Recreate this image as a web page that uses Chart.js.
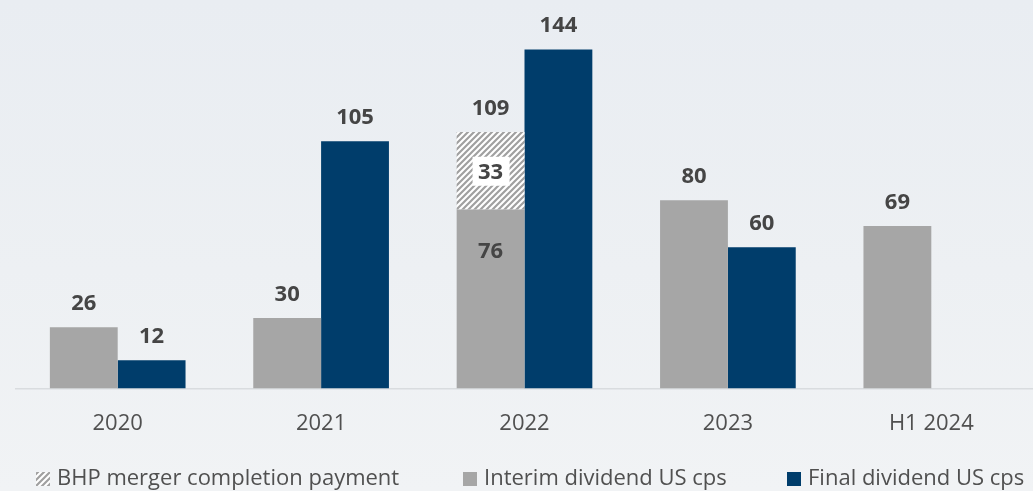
<!DOCTYPE html>
<html>
<head>
<meta charset="utf-8">
<script src="https://cdn.jsdelivr.net/npm/chart.js@4.4.1/dist/chart.umd.min.js"></script>
<style>
html, body { margin: 0; padding: 0; }
body {
  width: 1033px; height: 491px; overflow: hidden;
  background: linear-gradient(180deg, #e9edf2 0%, #edf0f3 55%, #f1f3f5 100%);
}
#wrap { position: relative; width: 1033px; height: 491px; }
</style>
</head>
<body>
<div id="wrap"><canvas id="myChart"></canvas></div>
<script>
var categories = ['2020', '2021', '2022', '2023', 'H1 2024']
var interimValues = [26, 30, 76, 80, 69]
var mergerValues = [null, null, 33, null, null]
var finalValues = [12, 105, 144, 60, null]
var seriesNames = ['BHP merger completion payment', 'Interim dividend US cps', 'Final dividend US cps']

var GREY = '#a6a6a6'
var NAVY = '#003d6b'
var LABEL = '#454545'
var FONT = '"Open Sans", "Noto Sans", sans-serif'

// diagonal hatch used for the merger payment
function makeHatch() {
  var p = document.createElement('canvas')
  p.width = 6
  p.height = 6
  var g = p.getContext('2d')
  g.fillStyle = '#ffffff'
  g.fillRect(0, 0, 6, 6)
  g.strokeStyle = '#a0a0a0'
  g.lineWidth = 2.2
  g.beginPath()
  g.moveTo(-1, 7); g.lineTo(7, -1)
  g.moveTo(-4, 4); g.lineTo(4, -4)
  g.moveTo(2, 10); g.lineTo(10, 2)
  g.stroke()
  return g.createPattern(p, 'repeat')
}
var hatch = makeHatch()

var labelPlugin = {
  id: 'barLabels',
  afterDatasetsDraw: function (chart) {
    var c = chart.ctx
    var interim = chart.getDatasetMeta(0).data
    var merger = chart.getDatasetMeta(1).data
    var fin = chart.getDatasetMeta(2).data
    c.save()
    c.font = 'bold 22px ' + FONT
    c.textAlign = 'center'
    c.textBaseline = 'alphabetic'
    categories.forEach(function (cat, i) {
      c.fillStyle = LABEL
      if (interimValues[i] != null) {
        var bar = interim[i]
        if (mergerValues[i] != null) {
          var m = merger[i]
          var mid = (m.y + m.base) / 2
          c.fillText(interimValues[i], bar.x, bar.y + 48)
          c.fillStyle = '#ffffff'
          c.fillRect(m.x - 18, mid - 14, 37, 29)
          c.fillStyle = LABEL
          c.fillText(mergerValues[i], m.x, mid + 8)
          c.fillText(interimValues[i] + mergerValues[i], m.x, m.y - 17)
        } else {
          c.fillText(interimValues[i], bar.x, bar.y - 17)
        }
      }
      if (finalValues[i] != null) {
        c.fillText(finalValues[i], fin[i].x, fin[i].y - 17)
      }
    })
    c.restore()
  }
}

// legend drawn along the bottom edge
var legendX = [36, 463, 787]
var legendPlugin = {
  id: 'bottomLegend',
  afterDraw: function (chart) {
    var c = chart.ctx
    var y = 472
    c.save()
    c.font = '22px ' + FONT
    c.textBaseline = 'middle'
    c.textAlign = 'left'
    var fills = [hatch, GREY, NAVY]
    seriesNames.forEach(function (name, i) {
      c.fillStyle = fills[i]
      c.fillRect(legendX[i], y, 14, 14)
      c.fillStyle = '#505050'
      c.fillText(name, legendX[i] + 21, y + 7)
    })
    c.restore()
  }
}

var ctx = document.getElementById('myChart').getContext('2d')
var myChart = new Chart(ctx, {
  type: 'bar',
  data: {
    labels: categories,
    datasets: [
      {
        label: seriesNames[1],
        data: interimValues,
        backgroundColor: GREY,
        stack: 'interim',
        barPercentage: 1,
        categoryPercentage: 0.667,
      },
      {
        label: seriesNames[0],
        data: mergerValues,
        backgroundColor: hatch,
        stack: 'interim',
        barPercentage: 1,
        categoryPercentage: 0.667,
      },
      {
        label: seriesNames[2],
        data: finalValues,
        backgroundColor: NAVY,
        stack: 'final',
        barPercentage: 1,
        categoryPercentage: 0.667,
      },
    ],
  },
  options: {
    responsive: true,
    maintainAspectRatio: false,
    animation: { duration: 0 },
    layout: { padding: { left: 16, right: 0, top: 0, bottom: 32 } },
    plugins: {
      legend: { display: false },
      tooltip: { enabled: false },
    },
    scales: {
      x: {
        stacked: true,
        grid: { display: false, drawTicks: false },
        border: { display: true, color: '#d9dcdf', width: 1.5 },
        ticks: {
          padding: 22,
          color: '#505050',
          font: { family: FONT, size: 22 },
        },
      },
      y: {
        stacked: true,
        display: false,
        min: 0,
        max: 165,
      },
    },
  },
  plugins: [labelPlugin, legendPlugin],
})
</script>
</body>
</html>
